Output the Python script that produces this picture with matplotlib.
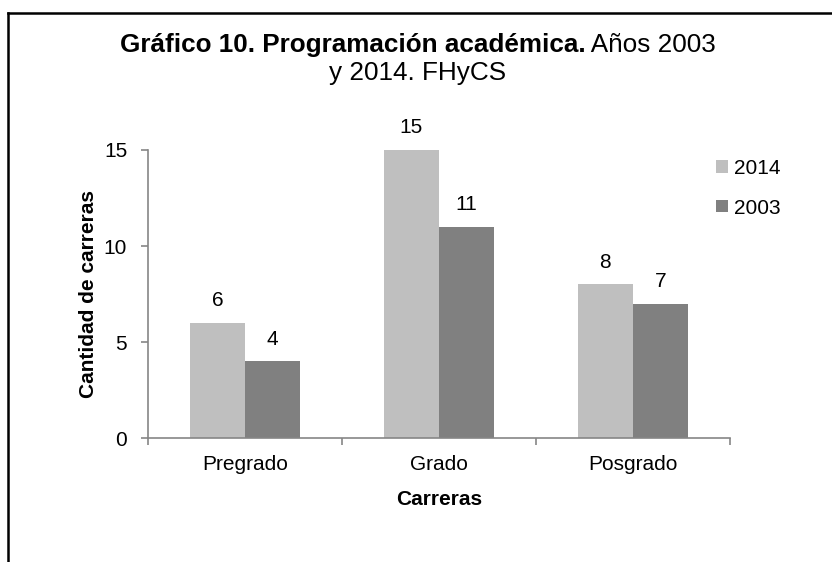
import matplotlib.pyplot as plt
import numpy as np
from matplotlib.lines import Line2D

categorias = ["Pregrado", "Grado", "Posgrado"]
valores_2014 = [6, 15, 8]
valores_2003 = [4, 11, 7]
series = ["2014", "2003"]
yticks = [0, 5, 10, 15]

plt.rcParams['font.family'] = ['Liberation Sans', 'DejaVu Sans']

fig = plt.figure(figsize=(8.32, 5.62), dpi=100)
ax = fig.add_axes([0.1779, 0.2206, 0.6995, 0.5125])

x = np.arange(len(categorias))
w = 0.285
gris_eje = '#868686'
fs = 15

b1 = ax.bar(x - w/2, valores_2014, w, color='#BFBFBF', label=series[0])
b2 = ax.bar(x + w/2, valores_2003, w, color='#808080', label=series[1])

for bars in (b1, b2):
    for r in bars:
        ax.annotate(str(int(r.get_height())), (r.get_x() + r.get_width()/2, r.get_height()),
                    xytext=(0, 9), textcoords='offset points', ha='center', va='bottom',
                    fontsize=fs)

ax.set_xlim(-0.5, 2.5)
ax.set_ylim(0, 15)
ax.set_yticks(yticks)
ax.set_xticks(x)
ax.set_xticklabels(categorias)
ax.set_xticks([-0.5, 0.5, 1.5, 2.5], minor=True)
ax.tick_params(axis='x', which='major', length=0, labelsize=fs, pad=12)
ax.tick_params(axis='x', which='minor', length=5, color=gris_eje, width=1.2)
ax.tick_params(axis='y', length=5, color=gris_eje, width=1.2, labelsize=fs, pad=10)

for s in ['top', 'right']:
    ax.spines[s].set_visible(False)
for s in ['left', 'bottom']:
    ax.spines[s].set_color(gris_eje)
    ax.spines[s].set_linewidth(1.2)

ax.set_xlabel("Carreras", fontsize=fs, fontweight='bold', labelpad=12)
ax.set_ylabel("Cantidad de carreras", fontsize=fs, fontweight='bold', labelpad=4)

ax.legend(loc='upper left', bbox_to_anchor=(0.944, 1.035), frameon=False, fontsize=fs,
          handlelength=0.55, handleheight=0.55, handletextpad=0.3, labelspacing=1.0)

# titulo: parte en negrita y parte normal, centrado en conjunto
tfs = 18.8
t1 = fig.text(0, 0.92, "Gráfico 10. Programación académica.", fontsize=tfs, fontweight='bold',
              ha='left', va='center')
t2 = fig.text(0, 0.92, " Años 2003", fontsize=tfs, ha='left', va='center')
r = fig.canvas.get_renderer()
w1 = t1.get_window_extent(r).width / fig.bbox.width
w2 = t2.get_window_extent(r).width / fig.bbox.width
x0 = 418/832 - (w1 + w2)/2
t1.set_x(x0)
t2.set_x(x0 + w1)
fig.text(418/832, 0.87, "y 2014. FHyCS", fontsize=tfs, ha='center', va='center')

# marco
fig.add_artist(Line2D([8/832, 8/832], [0, 1 - 13/562], color='black', lw=1.8, transform=fig.transFigure))
fig.add_artist(Line2D([8/832, 1], [1 - 13/562, 1 - 13/562], color='black', lw=1.8, transform=fig.transFigure))

fig.savefig("out.png", dpi=100)
